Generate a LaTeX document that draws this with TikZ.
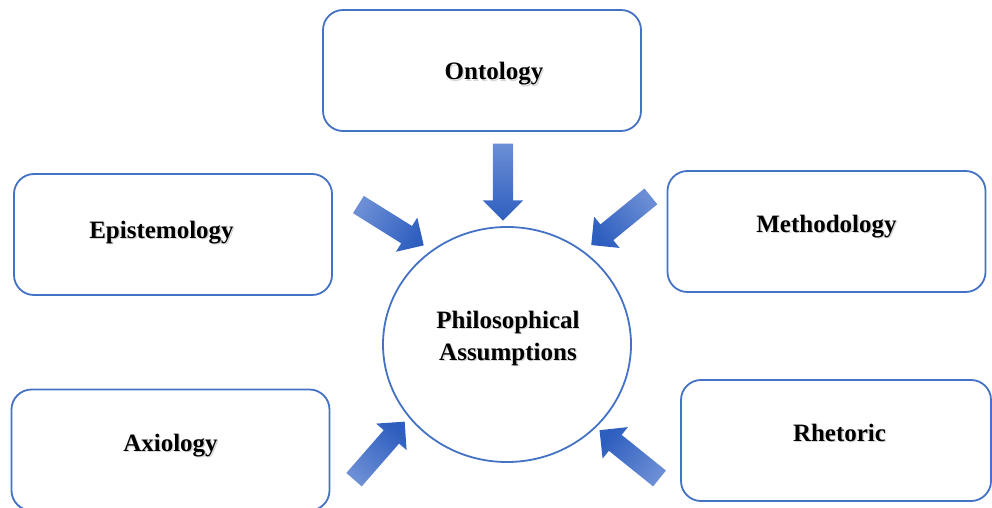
\documentclass[tikz,border=0pt]{standalone}
\usepackage{fontspec}
\setmainfont{Liberation Serif}
\usetikzlibrary{shapes.geometric,shapes.arrows,shadings}

\definecolor{edgeblue}{RGB}{68,114,196}
\definecolor{arrowlight}{RGB}{108,142,213}
\definecolor{arrowdark}{RGB}{46,95,191}

\begin{document}
\begin{tikzpicture}[x=1pt,y=-1pt,
  box/.style={draw=edgeblue, line width=1.8pt, rounded corners=20pt,
    minimum width=318pt, minimum height=121pt, inner sep=0pt},
  hub/.style={ellipse, draw=edgeblue, line width=1.8pt,
    minimum width=248pt, minimum height=235pt, inner sep=0pt},
  lbl/.style={font=\fontsize{25}{32}\selectfont\bfseries, inner sep=0pt, align=center},
  lblshadow/.style={lbl, text=black!45, opacity=0.35},
  % block arrow; #1 is the direction it points to (degrees)
  blockarrow/.style={single arrow, draw=none, inner sep=0pt,
    text height=10pt, text depth=10pt, text width=0pt,
    minimum height=77pt,
    single arrow head extend=10pt, single arrow head indent=0pt,
    rotate=#1,
    top color=arrowdark, bottom color=arrowlight, shading angle=#1-90},
]
\useasboundingbox (0,0) rectangle (992,508);

% outer boxes
\node[box] (onto)  at (482,70.5)  {};
\node[box] (epis)  at (173,234.5) {};
\node[box] (meth)  at (826.5,231.5) {};
\node[box] (axio)  at (170.5,450) {};
\node[box, minimum width=310pt] (rhet)  at (836,440.5) {};

% central ellipse
\node[hub] (phil) at (507,344.5) {};

% soft drop shadows under the labels
\node[lblshadow, anchor=base] (ontoS) at (495.3,81.3)    {Ontology};
\node[lblshadow, anchor=base] (episS) at (162.8,239.3) {Epistemology};
\node[lblshadow, anchor=base] (methS) at (827.8,233.3) {Methodology};
\node[lblshadow, anchor=base] (axioS) at (171.8,452.8) {Axiology};
\node[lblshadow, anchor=base] (rhetS) at (840.8,442.8) {Rhetoric};
\node[lblshadow] (philS) at (509.3,339.3) {Philosophical\\Assumptions};

% labels
\node[lbl, anchor=base] (ontoT) at (494,80)    {Ontology};
\node[lbl, anchor=base] (episT) at (161.5,238) {Epistemology};
\node[lbl, anchor=base] (methT) at (826.5,232) {Methodology};
\node[lbl, anchor=base] (axioT) at (170.5,451.5) {Axiology};
\node[lbl, anchor=base] (rhetT) at (839.5,441.5) {Rhetoric};
\node[lbl] (philT) at (508,338) {Philosophical\\Assumptions};

% block arrows pointing at the centre
\node[blockarrow=-90]    (aOnto) at (503,177)      {};
\node[blockarrow=-32]    (aEpis) at (386.75,222.25) {};
\node[blockarrow=-140.8] (aMeth) at (625,217.5)    {};
\node[blockarrow=48.9]   (aAxio) at (376,454.5)    {};
\node[blockarrow=141.2]  (aRhet) at (633.5,457.5)  {};
\end{tikzpicture}
\end{document}
